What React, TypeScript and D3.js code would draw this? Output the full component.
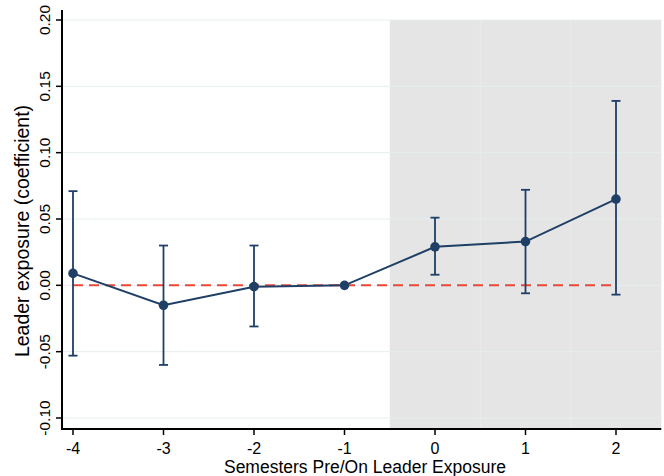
import React from "react";
import * as d3 from "d3";

const periods = [-4, -3, -2, -1, 0, 1, 2];
const coef = [0.009, -0.015, -0.001, 0.0, 0.029, 0.033, 0.065];
const ciLow = [-0.053, -0.060, -0.031, 0.0, 0.008, -0.006, -0.007];
const ciHigh = [0.071, 0.030, 0.030, 0.0, 0.051, 0.072, 0.139];
const yTicks = [-0.10, -0.05, 0.0, 0.05, 0.10, 0.15, 0.20];
const xTicks = [-4, -3, -2, -1, 0, 1, 2];
const shadeRange = [-0.5, 2.5];
const yTitle = "Leader exposure (coefficient)";
const xTitle = "Semesters Pre/On Leader Exposure";

const W = 664;
const H = 476;
const NAVY = "#1f3f66";
const RED = "#e8483b";
const FONT = "'Liberation Sans', Arial, Helvetica, sans-serif";

export default function App() {
  const x = d3.scaleLinear().domain([-4, 2]).range([73, 616]);
  const y = d3.scaleLinear().domain([-0.1, 0.2]).range([418, 20]);
  const left = 62;
  const bottom = 429;
  const top = 10;
  const plotTop = y(0.2);
  const right = x(2.5);

  const line = d3
    .line<number>()
    .x((_, i) => x(periods[i]))
    .y((d) => y(d));

  return (
    <div style={{ position: "fixed", left: 0, top: 0, width: W, height: H, overflow: "hidden" }}>
      <svg width={W} height={H} style={{ display: "block", fontFamily: FONT }}>
        <rect x={0} y={0} width={W} height={H} fill="#ffffff" />
        {/* shaded region */}
        <rect
          x={x(shadeRange[0])}
          y={plotTop}
          width={x(shadeRange[1]) - x(shadeRange[0])}
          height={bottom - plotTop}
          fill="#e5e5e5"
        />
        {[0.5, 1.5].map((v) => (
          <line key={v} x1={x(v)} x2={x(v)} y1={plotTop} y2={bottom} stroke="#ebebeb" strokeWidth={1} />
        ))}
        {/* gridlines */}
        {yTicks.map((t) => (
          <line
            key={t}
            x1={left}
            x2={right}
            y1={y(t)}
            y2={y(t)}
            stroke="#e6eef0"
            strokeWidth={1}
          />
        ))}
        {/* reference line */}
        <line
          x1={x(-4)}
          x2={x(2)}
          y1={y(0)}
          y2={y(0)}
          stroke={RED}
          strokeWidth={2}
          strokeDasharray="10 6"
        />
        {/* error bars */}
        {periods.map((p, i) => (
          <g key={p} stroke={NAVY} strokeWidth={1.8}>
            <line x1={x(p)} x2={x(p)} y1={y(ciLow[i])} y2={y(ciHigh[i])} />
            <line x1={x(p) - 4.5} x2={x(p) + 4.5} y1={y(ciLow[i])} y2={y(ciLow[i])} />
            <line x1={x(p) - 4.5} x2={x(p) + 4.5} y1={y(ciHigh[i])} y2={y(ciHigh[i])} />
          </g>
        ))}
        <path d={line(coef) || ""} fill="none" stroke={NAVY} strokeWidth={2} />
        {periods.map((p, i) => (
          <circle key={p} cx={x(p)} cy={y(coef[i])} r={4.8} fill={NAVY} />
        ))}
        {/* axes */}
        <line x1={left} x2={left} y1={top} y2={bottom + 1} stroke="#000" strokeWidth={2} />
        <line x1={left - 1} x2={right} y1={bottom} y2={bottom} stroke="#000" strokeWidth={2} />
        {yTicks.map((t) => (
          <g key={t}>
            <line x1={left - 6} x2={left} y1={y(t)} y2={y(t)} stroke="#000" strokeWidth={1.5} />
            <text
              transform={`translate(50,${y(t)}) rotate(-90)`}
              textAnchor="middle"
              fontSize={15.5}
              fill="#000"
            >
              {t.toFixed(2)}
            </text>
          </g>
        ))}
        {xTicks.map((t) => (
          <g key={t}>
            <line x1={x(t)} x2={x(t)} y1={bottom} y2={bottom + 6} stroke="#000" strokeWidth={1.5} />
            <text x={x(t)} y={454} textAnchor="middle" fontSize={16} fill="#000">
              {t}
            </text>
          </g>
        ))}
        <text
          transform={`translate(29,231) rotate(-90)`}
          textAnchor="middle"
          fontSize={19.5}
          fill="#000"
        >
          {yTitle}
        </text>
        <text x={365} y={473} textAnchor="middle" fontSize={17.5} fill="#000">
          {xTitle}
        </text>
      </svg>
    </div>
  );
}
